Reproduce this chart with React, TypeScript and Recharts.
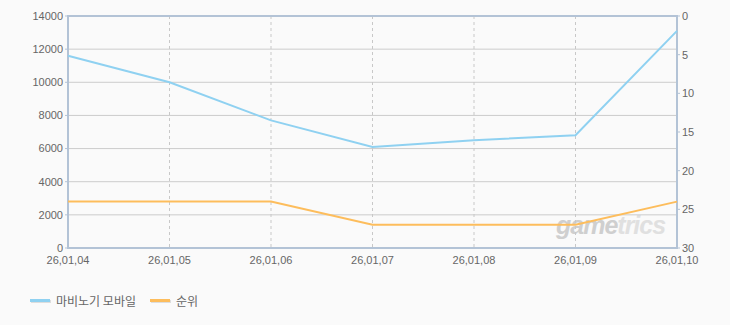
import { LineChart, Line, XAxis, YAxis, CartesianGrid, ReferenceArea, Legend } from "recharts";

const dates = ["26,01,04", "26,01,05", "26,01,06", "26,01,07", "26,01,08", "26,01,09", "26,01,10"];
const players = [11600, 10000, 7700, 6100, 6500, 6800, 13100];
const ranks = [24, 24, 24, 27, 27, 27, 24];
const leftTicks = [0, 2000, 4000, 6000, 8000, 10000, 12000, 14000];
const rightTicks = [0, 5, 10, 15, 20, 25, 30];

const seriesName = "마비노기 모바일";
const rankName = "순위";

const data = dates.map((d, i) => ({ date: d, players: players[i], rank: ranks[i] }));

const border = "#b3c3d6";
const tickStyle = { fill: "#666", fontSize: 11, fontFamily: "Liberation Sans, Arial, sans-serif" };

function LegendBox({ payload }: any) {
  return (
    <div style={{ display: "flex", alignItems: "center", height: 20, paddingLeft: 22, fontFamily: "'Noto Sans CJK KR', sans-serif", fontSize: 12, color: "#666" }}>
      {(payload || []).map((p: any) => (
        <div key={p.value} style={{ display: "flex", alignItems: "center", marginRight: 14 }}>
          <span style={{ display: "inline-block", width: 20, height: 3, background: p.color, marginRight: 6, boxShadow: "1px 1px 0 #ddd" }} />
          <span>{p.value}</span>
        </div>
      ))}
    </div>
  );
}

export default function App() {
  return (
    <div style={{ position: "absolute", left: 0, top: 0, width: 730, height: 325, background: "#fafafa" }}>
      <div
        style={{
          position: "absolute", left: 556, top: 211, fontFamily: "Liberation Sans, Arial, sans-serif",
          fontStyle: "italic", fontWeight: "bold", fontSize: 25, letterSpacing: -1, color: "#cfcfcf",
        }}
      >
        game<span style={{ color: "#e0e0e0" }}>trics</span>
      </div>
      <LineChart width={730} height={325} data={data} margin={{ top: 16, right: 8, bottom: 15, left: 8 }} style={{ position: "absolute", left: 0, top: 0 }}>
        <CartesianGrid yAxisId="left" vertical={false} stroke="#cccccc" />
        <CartesianGrid yAxisId="left" horizontal={false} stroke="#c8c8c8" strokeDasharray="3 3" />
        <XAxis dataKey="date" height={42} interval={0} tick={tickStyle} tickLine={false} axisLine={false} />
        <YAxis yAxisId="left" width={60} domain={[0, 14000]} ticks={leftTicks} tick={tickStyle} tickSize={3} tickLine={{ stroke: border }} axisLine={false} />
        <YAxis yAxisId="right" orientation="right" width={45} reversed domain={[0, 30]} ticks={rightTicks} tick={tickStyle} tickSize={3} tickLine={{ stroke: border }} axisLine={false} />
        <ReferenceArea yAxisId="left" x1={dates[0]} x2={dates[dates.length - 1]} y1={0} y2={14000} fill="none" stroke={border} strokeWidth={2} ifOverflow="visible" />
        <Line yAxisId="left" dataKey="players" name={seriesName} stroke="#8fd1f1" strokeWidth={2} dot={false} isAnimationActive={false} />
        <Line yAxisId="right" dataKey="rank" name={rankName} stroke="#fdbd5c" strokeWidth={2} dot={false} isAnimationActive={false} />
        <Legend verticalAlign="bottom" align="left" content={<LegendBox />} />
      </LineChart>
    </div>
  );
}
